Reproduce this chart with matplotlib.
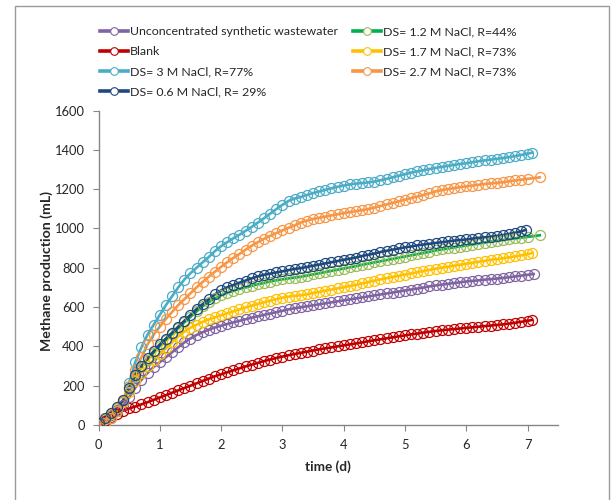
import matplotlib

matplotlib.use("Agg")
import matplotlib.pyplot as plt
from matplotlib.lines import Line2D
from matplotlib.patches import Rectangle


# =========================
# Datos
# =========================

# tiempo (d), muestreo comun de las curvas
tiempo = [
    0.0, 0.1, 0.2, 0.3, 0.4, 0.5, 0.6, 0.7, 0.8, 0.9,
    1.0, 1.1, 1.2, 1.3, 1.4, 1.5, 1.6, 1.7, 1.8, 1.9,
    2.0, 2.1, 2.2, 2.3, 2.4, 2.5, 2.6, 2.7, 2.8, 2.9,
    3.0, 3.1, 3.2, 3.3, 3.4, 3.5, 3.6, 3.7, 3.8, 3.9,
    4.0, 4.1, 4.2, 4.3, 4.4, 4.5, 4.6, 4.7, 4.8, 4.9,
    5.0, 5.1, 5.2, 5.3, 5.4, 5.5, 5.6, 5.7, 5.8, 5.9,
    6.0, 6.1, 6.2, 6.3, 6.4, 6.5, 6.6, 6.7, 6.8, 6.9,
    7.0,
]

# produccion de metano (mL)
sin_concentrar = [
    5, 25, 50, 75, 100, 140, 190, 230, 265, 295,
    320, 345, 370, 395, 420, 440, 458, 472, 485, 496,
    505, 514, 522, 530, 538, 546, 553, 560, 567, 574,
    581, 588, 594, 599, 604, 609, 614, 619, 624, 629,
    634, 639, 644, 649, 654, 659, 664, 669, 674, 679,
    684, 689, 694, 699, 705, 710, 714, 718, 722, 726,
    730, 733, 736, 739, 742, 745, 748, 752, 756, 760,
    764,
]
ds_12 = [
    6, 30, 57, 85, 120, 183, 248, 293, 333, 368,
    402, 432, 462, 492, 522, 550, 578, 604, 626, 644,
    660, 672, 682, 692, 700, 708, 716, 723, 730, 736,
    741, 746, 750, 754, 760, 766, 772, 778, 784, 790,
    796, 802, 808, 815, 821, 827, 833, 839, 845, 851,
    857, 863, 869, 875, 881, 888, 893, 898, 903, 908,
    913, 918, 923, 928, 933, 937, 941, 945, 949, 953,
    957,
]
blanco = [
    5, 20, 40, 58, 72, 84, 94, 105, 116, 128,
    140, 152, 164, 176, 188, 200, 212, 224, 236, 248,
    258, 268, 278, 288, 298, 307, 316, 325, 333, 341,
    348, 355, 361, 367, 373, 379, 385, 390, 395, 400,
    405, 410, 415, 420, 426, 431, 436, 441, 446, 451,
    456, 461, 465, 470, 474, 478, 482, 485, 488, 491,
    494, 497, 500, 503, 506, 509, 512, 516, 520, 525,
    530,
]
ds_17 = [
    8, 30, 58, 85, 118, 170, 225, 265, 300, 330,
    360, 390, 420, 450, 475, 495, 510, 525, 537, 548,
    558, 568, 578, 588, 598, 607, 616, 624, 632, 640,
    648, 653, 657, 660, 665, 671, 677, 683, 689, 695,
    701, 707, 713, 720, 727, 734, 741, 747, 753, 759,
    765, 771, 777, 783, 789, 795, 800, 805, 810, 815,
    820, 825, 830, 835, 840, 844, 848, 853, 858, 863,
    869,
]
ds_3 = [
    0, 8, 35, 70, 120, 215, 320, 395, 460, 510,
    560, 610, 655, 700, 740, 772, 800, 828, 855, 885,
    910, 930, 950, 968, 988, 1008, 1030, 1052, 1075, 1098,
    1120, 1140, 1152, 1160, 1170, 1180, 1188, 1196, 1204, 1212,
    1218, 1224, 1228, 1231, 1234, 1238, 1245, 1252, 1260, 1268,
    1276, 1284, 1290, 1296, 1302, 1308, 1313, 1318, 1323, 1328,
    1332, 1337, 1342, 1346, 1350, 1354, 1358, 1363, 1368, 1374,
    1380,
]
ds_27 = [
    0, 10, 38, 72, 120, 200, 280, 345, 410, 460,
    500, 540, 575, 610, 640, 670, 700, 728, 755, 780,
    805, 828, 850, 870, 892, 912, 930, 947, 962, 976,
    990, 1003, 1015, 1030, 1040, 1048, 1054, 1060, 1066, 1072,
    1078, 1083, 1088, 1093, 1098, 1106, 1114, 1122, 1130, 1138,
    1146, 1154, 1162, 1170, 1178, 1188, 1195, 1200, 1205, 1210,
    1214, 1218, 1222, 1226, 1229, 1232, 1235, 1240, 1244, 1248,
    1252,
]
ds_06 = [
    10, 35, 62, 90, 125, 190, 255, 300, 340, 375,
    410, 440, 470, 500, 530, 560, 590, 615, 640, 665,
    685, 700, 712, 724, 735, 746, 756, 764, 770, 776,
    782, 788, 794, 798, 804, 810, 816, 822, 828, 834,
    840, 846, 852, 860, 866, 872, 880, 886, 892, 898,
    904, 908, 914, 918, 922, 926, 930, 934, 938, 941,
    944, 948, 952, 955, 958, 962, 966, 972, 978, 986,
]

# ultimo punto de cada curva (tiempo, mL)
punto_final = {
    "sin_concentrar": (7.1, 768),
    "ds_12": (7.2, 965),
    "blanco": (7.07, 534),
    "ds_17": (7.08, 875),
    "ds_3": (7.08, 1386),
    "ds_27": (7.2, 1260),
    "ds_06": (6.97, 992),
}

# orden de dibujo (el ultimo queda encima)
SERIES = [
    ("sin_concentrar", sin_concentrar, "Unconcentrated synthetic wastewater", "#8064A2", "#8064A2"),
    ("ds_12", ds_12, "DS= 1.2 M NaCl, R=44%", "#00B050", "#9BBB59"),
    ("blanco", blanco, "Blank", "#C00000", "#C00000"),
    ("ds_17", ds_17, "DS= 1.7 M NaCl, R=73%", "#FFC000", "#FFC000"),
    ("ds_3", ds_3, "DS= 3 M NaCl, R=77%", "#4BACC6", "#4BACC6"),
    ("ds_27", ds_27, "DS= 2.7 M NaCl, R=73%", "#F79646", "#F79646"),
    ("ds_06", ds_06, "DS= 0.6 M NaCl, R= 29%", "#1F497D", "#1F497D"),
]

# orden de la leyenda (dos columnas, se llenan por columna)
ORDEN_LEYENDA = ["sin_concentrar", "blanco", "ds_3", "ds_06", "ds_12", "ds_17", "ds_27"]

GRIS_EJE = "#868686"
COLOR_TEXTO = "#262626"


# =========================
# Grafico
# =========================


def graficar():
    plt.rcParams["font.family"] = ["Lato", "DejaVu Sans"]

    fig = plt.figure(figsize=(6.12, 5.0), dpi=100)
    ax = fig.add_axes([0.161, 0.15, 0.751, 0.629])

    # marco gris del area del grafico
    fig.patches.append(
        Rectangle((0.0245, -0.02), 0.97, 1.008, transform=fig.transFigure,
                  fill=False, edgecolor="#9a9a9a", linewidth=1.0)
    )

    manejadores = {}
    for clave, valores, etiqueta, color_linea, color_marca in SERIES:
        t_fin, v_fin = punto_final[clave]
        x = tiempo[: len(valores)] + [t_fin]
        y = valores + [v_fin]
        ax.plot(x, y, color=color_linea, linewidth=1.9, zorder=2)
        ax.plot(x, y, linestyle="none", marker="o", markersize=7.2,
                markerfacecolor="none", markeredgecolor=color_marca,
                markeredgewidth=0.9, zorder=3)
        manejadores[clave] = Line2D(
            [0], [0], color=color_linea, linewidth=2.6, marker="o", markersize=5.5,
            markerfacecolor="white", markeredgecolor=color_marca, markeredgewidth=0.8,
            label=etiqueta,
        )

    ax.set_xlim(0, 7.5)
    ax.set_ylim(0, 1600)
    ax.set_xticks(range(0, 8))
    ax.set_yticks(range(0, 1601, 200))

    for lado in ["top", "right"]:
        ax.spines[lado].set_visible(False)
    for lado in ["left", "bottom"]:
        ax.spines[lado].set_color(GRIS_EJE)
        ax.spines[lado].set_linewidth(1.0)
    ax.tick_params(axis="both", direction="out", length=4, width=0.8,
                   color=GRIS_EJE, labelsize=9.3, labelcolor=COLOR_TEXTO, pad=6)

    ax.set_xlabel("time (d)", fontsize=9.8, fontweight="bold", color=COLOR_TEXTO, labelpad=7)
    ax.set_ylabel("Methane production (mL)", fontsize=10.2, fontweight="bold",
                  color=COLOR_TEXTO)
    ax.yaxis.set_label_coords(-0.098, 0.49)

    leyenda = [manejadores[c] for c in ORDEN_LEYENDA]
    fig.legend(
        handles=leyenda, loc="upper left", bbox_to_anchor=(0.163, 0.948), ncol=2,
        frameon=False, fontsize=8.9, handlelength=2.3, handletextpad=0.15,
        columnspacing=1.2, labelspacing=0.75, borderpad=0, borderaxespad=0,
        labelcolor=COLOR_TEXTO,
    )

    fig.savefig("out.png", dpi=100)
    plt.close(fig)


def main():
    graficar()


if __name__ == "__main__":
    main()
